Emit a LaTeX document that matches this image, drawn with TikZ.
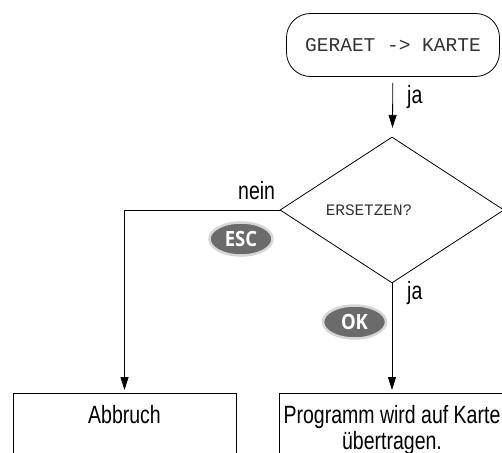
\documentclass[tikz,border=0pt]{standalone}
\usepackage{fontspec}
\setmainfont{Liberation Sans}[FakeStretch=0.78]
\setmonofont{Liberation Mono}
\newfontfamily\keyfont{Open Sans}[FakeStretch=0.88]
\usepackage{xcolor}
\usetikzlibrary{arrows.meta, shapes.geometric}
\definecolor{keygray}{HTML}{6B6B6B}
\definecolor{keyrim}{HTML}{D6D6D6}

\begin{document}
\begin{tikzpicture}[x=1pt, y=-1pt,
    terminal/.style={draw, line width=0.8pt, rounded corners=24pt, minimum width=213pt, minimum height=63pt, text=black!80, font=\ttfamily\fontsize{19.5}{22}\selectfont},
    decision/.style={draw, diamond, line width=0.8pt, minimum width=224pt, minimum height=146pt, inner sep=0pt},
    lcd/.style={inner sep=0pt, text=black!80, font=\ttfamily\fontsize{16}{18}\selectfont},
    action/.style={draw, line width=0.8pt, anchor=north, align=center, inner ysep=12pt, text depth=40pt, font=\fontsize{25}{25.5}\selectfont},
    key/.style={ellipse, draw=keyrim, line width=2.5pt, fill=keygray, minimum width=63pt, minimum height=33pt, inner sep=0pt, text=white, font=\keyfont\fontsize{21}{21}\selectfont\bfseries},
    arrow/.style={-{Triangle[length=13pt, width=8pt]}, line width=0.8pt},
    label/.style={inner sep=0pt, anchor=base west, font=\fontsize{25}{28}\selectfont}
]
    \useasboundingbox (0,0) rectangle (502,452);

    % Start
    \node[terminal] (start) at (393,45) {GERAET -> KARTE};

    % Question
    \node[decision] (query) at (392,210) {};
    \node[lcd] (querytext) at (369,210) {ERSETZEN?};

    % Results
    \node[action, minimum width=223pt] (abort) at (124.5,393) {Abbruch};
    \node[action, minimum width=226pt] (transfer) at (392,393) {Programm wird auf Karte\\übertragen.};

    % Keys
    \node[key] (esc) at (241,239) {ESC};
    \node[key] (ok) at (354.5,322) {OK};

    % Labels
    \node[label] (yes1) at (407,103) {ja};
    \node[label] (no) at (238,199) {nein};
    \node[label] (yes2) at (407,299) {ja};

    % Arrows
    \draw[arrow, shorten <=6pt, shorten >=9pt] (start) -- (query);
    \draw[arrow, shorten >=3pt] (query.west) -| (abort.north);
    \draw[arrow, shorten >=3pt] (query.south) -- (transfer.north);
\end{tikzpicture}
\end{document}
